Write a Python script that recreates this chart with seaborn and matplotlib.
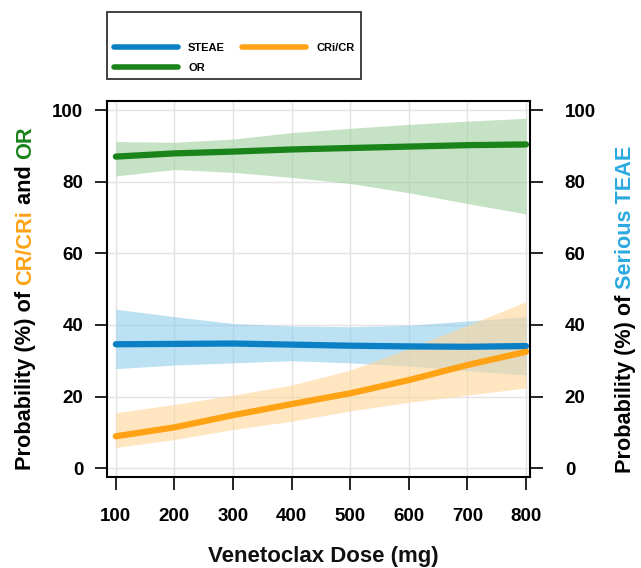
import matplotlib
matplotlib.use('Agg')
import matplotlib.pyplot as plt
import numpy as np
import pandas as pd
import seaborn as sns
from matplotlib.lines import Line2D

# dose grid (mg)
dose = [100, 200, 300, 400, 500, 600, 700, 800]

# OR
or_mid = [87.0, 87.9, 88.4, 89.0, 89.4, 89.8, 90.2, 90.4]
or_hi = [91.2, 91.0, 91.9, 93.7, 94.9, 96.0, 96.9, 97.7]
or_lo = [81.6, 83.4, 82.6, 81.2, 79.5, 76.9, 73.9, 71.0]

# serious TEAE
steae_mid = [34.6, 34.7, 34.8, 34.5, 34.2, 34.0, 33.9, 34.1]
steae_hi = [44.4, 42.3, 40.4, 39.7, 39.5, 39.9, 41.1, 42.3]
steae_lo = [27.8, 28.8, 29.4, 30.0, 29.4, 28.5, 27.2, 26.0]

# CR/CRi
cr_mid = [8.9, 11.4, 14.8, 17.9, 20.9, 24.6, 28.8, 32.5]
cr_hi = [15.5, 17.8, 20.4, 23.2, 27.4, 33.4, 39.9, 46.5]
cr_lo = [5.8, 8.0, 10.8, 13.1, 16.0, 18.4, 20.4, 22.4]

y_ticks = [0, 20, 40, 60, 80, 100]
x_ticks = [100, 200, 300, 400, 500, 600, 700, 800]

c_green, c_green_band = '#1a831a', '#9fd09f'
c_blue, c_blue_band = '#0c80c4', '#8fcdec'
c_orange, c_orange_band = '#ffa214', '#ffd699'
c_label_blue = '#2aa9e0'

sns.set_style('white')
plt.rcParams['font.family'] = ['Liberation Sans', 'DejaVu Sans']
plt.rcParams['font.weight'] = 'bold'
plt.rcParams['text.color'] = 'black'

fig = plt.figure(figsize=(6.41, 5.68), dpi=100)
ax = fig.add_axes([0.167, 0.160, 0.660, 0.662])

df = pd.DataFrame({'dose': dose * 3,
                   'p': or_mid + steae_mid + cr_mid,
                   'series': ['OR'] * 8 + ['STEAE'] * 8 + ['CRi/CR'] * 8})

ax.fill_between(dose, or_lo, or_hi, color=c_green_band, alpha=0.6, lw=0)
ax.fill_between(dose, steae_lo, steae_hi, color=c_blue_band, alpha=0.6, lw=0)
ax.fill_between(dose, cr_lo, cr_hi, color=c_orange_band, alpha=0.6, lw=0)

sns.lineplot(data=df, x='dose', y='p', hue='series',
             palette={'OR': c_green, 'STEAE': c_blue, 'CRi/CR': c_orange},
             lw=4.5, ax=ax, legend=False)

ax.set_xlim(85, 807)
ax.set_ylim(-2.5, 102.5)
ax.set_xticks(x_ticks)
ax.set_yticks(y_ticks)
ax.grid(True, color='#e3e3e3', lw=1)
ax.set_axisbelow(True)
for s in ax.spines.values():
    s.set_color('black')
    s.set_linewidth(1.5)
ax.tick_params(axis='both', direction='out', length=9, width=1.2, colors='black',
               labelsize=13.5, left=True, bottom=True)
ax.tick_params(axis='x', pad=13)
ax.tick_params(axis='y', pad=8)
ax.set_xlabel('')
ax.set_ylabel('')

ax2 = ax.twinx()
ax2.set_ylim(ax.get_ylim())
ax2.set_yticks(y_ticks)
ax2.tick_params(axis='y', direction='out', length=9, width=1.2, colors='black',
                labelsize=13.5, pad=16, right=True)
for s in ax2.spines.values():
    s.set_visible(False)

fig.text(0.505, 0.020, 'Venetoclax Dose (mg)', ha='center', va='center',
         fontsize=16, fontweight='bold', color='#111111')

# multi-coloured rotated axis labels
fig.canvas.draw()
renderer = fig.canvas.get_renderer()


def vlabel(x, y0, pieces, size=15.7):
    y = y0
    for txt, col in pieces:
        t = fig.text(x, y, txt, rotation=90, ha='center', va='bottom',
                     fontsize=size, fontweight='bold', color=col)
        bb = t.get_window_extent(renderer).transformed(fig.transFigure.inverted())
        y = bb.y1


vlabel(0.040, 0.173, [('Probability (%) of ', 'black'), ('CR/CRi', c_orange),
                      (' and ', 'black'), ('OR', c_green)])
vlabel(0.976, 0.167, [('Probability (%) of ', 'black'), ('Serious TEAE', c_label_blue)],
       size=15.6)

handles = [Line2D([], [], color=c_blue, lw=4),
           Line2D([], [], color=c_green, lw=4),
           Line2D([], [], color=c_orange, lw=4)]
leg = fig.legend(handles, ['STEAE', 'OR', 'CRi/CR'], ncol=2,
                 loc='upper left', bbox_to_anchor=(0.167, 0.979),
                 borderaxespad=0, title=' ', title_fontsize=11,
                 frameon=True, fancybox=False, edgecolor='black',
                 prop={'size': 8, 'weight': 'bold'}, handlelength=5.8,
                 handletextpad=0.9, borderpad=0.6, columnspacing=1.5,
                 labelspacing=0.9)
leg.get_frame().set_linewidth(1.3)

fig.savefig('out.png', dpi=100)
